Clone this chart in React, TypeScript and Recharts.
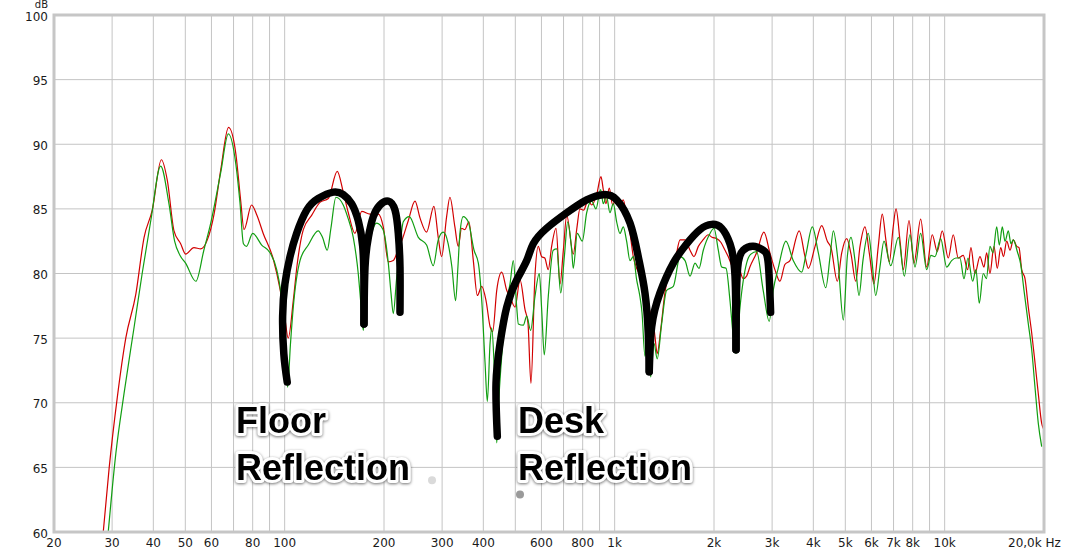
import React from "react";
import {
  LineChart,
  Line,
  XAxis,
  YAxis,
  CartesianGrid,
  ReferenceDot,
} from "recharts";

// [Hz, dB]
const RED: [number, number][] = [
  [28.2, 60], [29.4, 65], [31.1, 70.4], [33.0, 75], [35.4, 78.4], [37.5, 82.8], [39.7, 84.9],
  [42.3, 88.8], [44.1, 87.2], [46.2, 83.3], [48.4, 82.3], [50.1, 81.5], [53.1, 82.0], [55.7, 81.9],
  [58.3, 82.6], [61.1, 84.6], [64.0, 88.0], [67.6, 91.3], [71.1, 89.3], [73.6, 85.6], [75.3, 83.4],
  [79.4, 85.3], [82.4, 84.5], [86.1, 83.1], [92.4, 81.1], [96.8, 78.8], [100.2, 76.5], [102.5, 75.0],
  [106.2, 77.9], [109, 80.6], [113.9, 83.4], [120.7, 84.5], [127.9, 85.5], [135.6, 85.8], [144.3, 87.9],
  [150.5, 86.3], [155.9, 84.7], [163.3, 83.1], [171.2, 84.8], [181.4, 84.6], [192.2, 84.6], [199, 83.6],
  [206.1, 80.9], [213.4, 81.0], [219, 81.6], [227, 82.6], [237, 84.1], [248.3, 85.6], [257.1, 84.3],
  [269.2, 83.2], [283.3, 85.2], [292, 82.8], [299, 81.3], [309.6, 84.4], [316.8, 85.9], [328, 83.6],
  [335.7, 82.1], [343.7, 83.5], [351.7, 83.4], [361.7, 84.0], [373, 81.0], [383.6, 78.3], [395.6, 79.0],
  [407.6, 77.9], [419.2, 75.9], [427, 75.5], [439.2, 78.7], [454.7, 80.1], [470.9, 78.7], [485, 78.0],
  [499, 77.4], [516.7, 79.5], [535, 77.2], [546, 76.2], [557.6, 71.5], [573.4, 79.8], [586.7, 82.1],
  [601, 81.3], [614, 81.2], [629.2, 80.3], [644.2, 82.1], [664.3, 83.5], [683.1, 79.2], [699, 81.8],
  [715.8, 84.5], [749.2, 81.5], [767.2, 83.4], [785, 85.0], [805, 84.9], [831.8, 85.7], [851.8, 85.3],
  [882, 86.1], [908.8, 87.5], [923.6, 86.5], [941, 85.4], [963, 86.6], [986, 85.3], [1009, 85.8],
  [1035, 85.2], [1062, 85.7], [1087, 84.4], [1113, 83.1], [1139, 81.3], [1166, 80.4], [1193, 79.8],
  [1221, 78.7], [1244, 76.7], [1264, 76.1], [1295, 77.2], [1325, 75.1], [1346, 73.8], [1378, 75.6],
  [1420, 78.5], [1471, 80.3], [1524, 81.0], [1578, 82.6], [1634, 82.6], [1692, 81.8], [1739, 81.3],
  [1793, 82.1], [1852, 82.6], [1922, 83.0], [1972, 82.8], [2038, 82.7], [2100, 82.4], [2160, 81.8],
  [2210, 81.3], [2284, 80.5], [2370, 80.5], [2452, 79.6], [2511, 79.8], [2569, 80.5], [2692, 81.6],
  [2833, 83.2], [2954, 81.6], [3059, 80.3], [3168, 79.4], [3280, 80.7], [3397, 81.0], [3625, 83.3],
  [3775, 81.3], [3863, 80.4], [4048, 82.1], [4241, 83.7], [4410, 82.5], [4525, 82.0], [4729, 79.4],
  [4876, 81.6], [5049, 82.7], [5203, 81.5], [5376, 79.4], [5540, 82.1], [5734, 83.6], [5917, 81.5],
  [6106, 79.2], [6292, 82.1], [6470, 84.6], [6643, 82.5], [6798, 80.9], [6976, 83.5], [7123, 85.0],
  [7325, 82.5], [7496, 80.3], [7796, 84.1], [8073, 80.8], [8459, 84.2], [8820, 80.5], [9171, 83.0],
  [9497, 81.7], [9834, 83.3], [10254, 81.2], [10618, 83.0], [10995, 81.2], [11386, 81.4], [11740, 80.3],
  [12013, 82.0], [12355, 80.0], [12793, 81.3], [13155, 80.5], [13404, 81.6], [13717, 80.0], [14105, 82.1],
  [14438, 80.4], [14786, 82.0], [15076, 81.3], [15418, 82.5], [15776, 81.8], [16144, 82.6], [16532, 82.1],
  [16800, 82.0], [17118, 80.3], [17518, 79.6], [17926, 77.4], [18356, 75.4], [18782, 73.1], [19220, 70.7],
  [19682, 68.4], [19900, 68.0],
];

const GREEN: [number, number][] = [
  [29.2, 60], [30.8, 66.1], [32.6, 70.7], [35.0, 75.9], [37.0, 80.0], [39.3, 84.1], [42.1, 88.3],
  [44.6, 85.4], [46.4, 82.5], [48.2, 81.4], [50.1, 80.8], [53.8, 79.4], [56.9, 81.8], [59.7, 83.9],
  [64.0, 87.8], [67.5, 90.8], [71.1, 88.5], [73.2, 85.5], [75.0, 82.3], [76.6, 82.1], [80, 83.1],
  [85.2, 82.2], [90.3, 81.6], [94.6, 80.3], [97.9, 77.9], [100, 74.5], [102.1, 71.2], [104.1, 74.5],
  [106.2, 77.4], [111.3, 81.0], [117.9, 82.2], [126.4, 83.3], [130.2, 82.8], [134.6, 81.8], [138.1, 83.5],
  [143, 85.9], [150.5, 85.3], [155.5, 84.3], [161.4, 82.8], [167.1, 80.0], [170.4, 77.5], [173.1, 75.6],
  [175.8, 78.5], [179.3, 81.8], [183.9, 83.2], [190.1, 83.9], [198.6, 83.4], [206.1, 80.8], [210, 78.5],
  [213.4, 76.9], [218.2, 79.5], [223.6, 82.1], [228.8, 84.0], [238.6, 84.4], [254.1, 82.8], [269.2, 82.2],
  [282, 80.6], [292, 82.6], [302.3, 83.2], [313, 82.3], [321.2, 80.5], [329.6, 77.9], [335, 80.5],
  [339.7, 83.1], [347.6, 84.4], [359.9, 84.0], [374.9, 81.8], [386.3, 80.8], [395.6, 77.9], [404.8, 73.1],
  [411.3, 70.1], [419.2, 74.6], [424.1, 75.8], [431, 73.1], [439.2, 66.9], [446.2, 70.5], [454.7, 73.6],
  [470.9, 77.9], [481.9, 79.2], [493, 81.0], [504.9, 77.4], [510.6, 76.1], [528.7, 76.0], [541.4, 76.7],
  [556.4, 75.6], [573.4, 78.2], [590.9, 80.0], [601, 77.2], [611.8, 73.7], [629.2, 78.2], [651.5, 81.8],
  [667.6, 81.9], [686.4, 78.5], [703.9, 81.3], [720.9, 84.0], [740.9, 81.8], [749.2, 80.4], [770.4, 83.1],
  [797.8, 82.5], [822.6, 84.7], [851.8, 85.6], [877.7, 85.0], [906.9, 86.5], [923.6, 85.4], [944.4, 86.0],
  [967.7, 84.7], [990.3, 85.4], [1014, 84.0], [1037.7, 83.1], [1062, 83.6], [1087, 82.5], [1113, 81.0],
  [1139, 81.3], [1166, 79.5], [1193, 78.2], [1210, 77.0], [1235.5, 73.6], [1264, 75.6], [1285.5, 72.0],
  [1315.5, 74.6], [1346, 73.4], [1388, 76.1], [1437, 78.7], [1505.6, 79.0], [1578, 81.3], [1634, 81.0],
  [1692, 79.8], [1752, 80.8], [1801, 80.4], [1856, 81.8], [1945, 83.1], [2000, 83.5], [2061, 81.8],
  [2110, 80.5], [2175, 80.4], [2236, 77.9], [2288, 75.1], [2332, 73.8], [2398, 77.4], [2511, 80.8],
  [2587, 81.5], [2692, 81.7], [2819, 78.7], [2940, 76.3], [3023, 78.7], [3130, 80.4], [3303, 82.5],
  [3476, 81.0], [3689, 80.1], [3801, 81.5], [3972, 83.6], [4142, 81.6], [4362, 78.9], [4495, 81.3],
  [4599, 83.3], [4751, 81.0], [4931, 76.4], [5070, 81.3], [5203, 82.8], [5350, 81.0], [5502, 78.3],
  [5654, 81.0], [5867, 83.1], [6021, 81.0], [6179, 78.3], [6367, 80.5], [6547, 82.5], [6864, 80.6],
  [7239, 82.8], [7548, 79.8], [7850, 83.0], [8130, 80.5], [8459, 83.1], [8820, 80.3], [9088, 81.4],
  [9346, 81.3], [9725, 82.7], [10140, 80.5], [10500, 81.0], [10820, 81.2], [11127, 81.2], [11442, 79.6],
  [11765, 81.2], [12158, 79.4], [12442, 80.3], [12731, 77.7], [13090, 80.0], [13385, 79.6], [13717, 82.1],
  [14007, 81.6], [14378, 83.6], [14642, 82.2], [14952, 83.6], [15236, 82.5], [15590, 83.3], [15886, 82.3],
  [16144, 82.6], [16600, 81.7], [17000, 80.7], [17394, 78.7], [17926, 76.1], [18356, 74.1], [18782, 71.2],
  [19220, 68.4], [19682, 66.6],
];

// hand drawn annotation strokes
const FLOOR_ARC_1: [number, number][] = [
  [101.8, 71.6], [99.4, 73.8], [98.6, 76.7], [100.2, 79.2], [103.8, 81.3], [108.7, 83.1], [116.6, 84.9],
  [126.4, 85.8], [140.4, 86.3], [150.5, 86.1], [159.6, 85.4], [167.1, 84.1], [172.4, 82.1], [173.9, 79.2],
  [173.9, 76.1],
];
const FLOOR_ARC_2: [number, number][] = [
  [173.9, 76.1], [175.2, 80.5], [179.3, 82.8], [185.6, 84.4], [194.5, 85.3], [206.1, 85.6], [216, 84.9],
  [221, 83.1], [223.6, 80.5], [223.6, 77.0],
];
const DESK_ARC_1: [number, number][] = [
  [441, 67.4], [437, 71.5], [449.5, 74.6], [470.9, 77.4], [504.9, 79.5], [541.4, 81.0], [566.6, 82.3],
  [622, 83.5], [715.8, 84.7], [822.6, 85.7], [923.6, 86.1], [1014, 85.7], [1113, 83.9], [1179, 81.3],
  [1235.5, 78.5], [1264, 75.4], [1273, 72.4],
];
const DESK_ARC_2: [number, number][] = [
  [1273, 72.4], [1295, 75.9], [1372, 78.5], [1505.6, 80.8], [1653, 82.3], [1814, 83.4], [1968, 83.8],
  [2110, 83.5], [2236, 82.3], [2316, 79.8], [2332, 74.1],
];
const DESK_ARC_3: [number, number][] = [
  [2332, 74.1], [2340, 78.5], [2370, 80.9], [2452, 81.8], [2629, 82.1], [2819, 81.8], [2920, 80.8],
  [2969, 77.0],
];

const X_GRID = [
  20, 30, 40, 50, 60, 70, 80, 90, 100, 200, 300, 400, 500, 600, 700, 800, 900, 1000,
  2000, 3000, 4000, 5000, 6000, 7000, 8000, 9000, 10000, 20000,
];
const X_LABELS: Record<number, string> = {
  20: "20", 30: "30", 40: "40", 50: "50", 60: "60", 80: "80", 100: "100", 200: "200",
  300: "300", 400: "400", 600: "600", 800: "800", 1000: "1k", 2000: "2k", 3000: "3k",
  4000: "4k", 5000: "5k", 6000: "6k", 7000: "7k", 8000: "8k", 10000: "10k", 20000: "20,0k Hz",
};
const Y_TICKS = [60, 65, 70, 75, 80, 85, 90, 95, 100];

const CURSOR_DOTS = [
  { f: 279.6, db: 64.0, color: "#dadada" },
  { f: 516.6, db: 62.9, color: "#9a9a9a" },
];

const toRows = (pts: [number, number][]) => pts.map(([f, v]) => ({ f, v }));

const tickFont = { fontFamily: "'DejaVu Sans', sans-serif", fontSize: 12, fill: "#1a1a1a" };

const XTick = (props: any) => {
  const { x, payload } = props;
  const label = X_LABELS[payload.value];
  if (!label) return <g />;
  if (payload.value === 20000) {
    return (
      <text x={x - 36} y={547} textAnchor="start" {...tickFont}>
        {label}
      </text>
    );
  }
  return (
    <text x={x} y={547} textAnchor="middle" {...tickFont}>
      {label}
    </text>
  );
};

const YTick = (props: any) => {
  const { y, payload } = props;
  return (
    <text x={48} y={y + 5.5} textAnchor="end" {...tickFont}>
      {payload.value}
    </text>
  );
};

const annoText: React.CSSProperties = {
  fontFamily: "'Liberation Sans', Arial, sans-serif",
  fontWeight: "bold",
  fontSize: 36,
  paintOrder: "stroke",
  filter: "drop-shadow(0px 1px 1.5px rgba(0,0,0,0.55))",
};

export default function App() {
  const arcs = [FLOOR_ARC_1, FLOOR_ARC_2, DESK_ARC_1, DESK_ARC_2, DESK_ARC_3];
  return (
    <div style={{ position: "absolute", left: 0, top: 0, width: 1069, height: 553, background: "#fff" }}>
      <LineChart width={1069} height={553} margin={{ top: 15, right: 25, bottom: 0, left: 0 }}>
        <CartesianGrid stroke="#c4c4c4" strokeWidth={1} />
        <XAxis
          dataKey="f"
          type="number"
          scale="log"
          domain={[20, 20000]}
          ticks={X_GRID}
          interval={0}
          allowDataOverflow
          axisLine={false}
          tickLine={false}
          tickSize={0}
          height={21}
          tick={XTick}
        />
        <YAxis
          type="number"
          domain={[60, 100]}
          ticks={Y_TICKS}
          interval={0}
          allowDataOverflow
          axisLine={false}
          tickLine={false}
          tickSize={0}
          width={54}
          tick={YTick}
        />
        <Line data={toRows(RED)} dataKey="v" type="monotone" stroke="#d20000" strokeWidth={1.2} dot={false} isAnimationActive={false} />
        <Line data={toRows(GREEN)} dataKey="v" type="monotone" stroke="#119e11" strokeWidth={1.2} dot={false} isAnimationActive={false} />
        {arcs.map((a, i) => (
          <Line
            key={i}
            data={toRows(a)}
            dataKey="v"
            type="natural"
            stroke="#000"
            strokeWidth={7.5}
            strokeLinecap="round"
            strokeLinejoin="round"
            dot={false}
            isAnimationActive={false}
          />
        ))}
        {CURSOR_DOTS.map((d, i) => (
          <ReferenceDot key={i} x={d.f} y={d.db} r={4} fill={d.color} stroke="none" />
        ))}
      </LineChart>
      <svg
        width={1069}
        height={553}
        style={{ position: "absolute", left: 0, top: 0, pointerEvents: "none" }}
      >
        <rect x={54} y={15} width={990} height={517} fill="none" stroke="#c6c6c6" strokeWidth={3} />
        <text x={48} y={7.5} textAnchor="end" fontFamily="'DejaVu Sans', sans-serif" fontSize={10} fill="#1a1a1a">
          dB
        </text>
        <g stroke="#fff" strokeWidth={6} strokeLinejoin="round" fill="#000" style={annoText}>
          <text x={236} y={433}>Floor</text>
          <text x={236} y={480}>Reflection</text>
          <text x={518} y={433}>Desk</text>
          <text x={518} y={480}>Reflection</text>
        </g>
      </svg>
    </div>
  );
}
